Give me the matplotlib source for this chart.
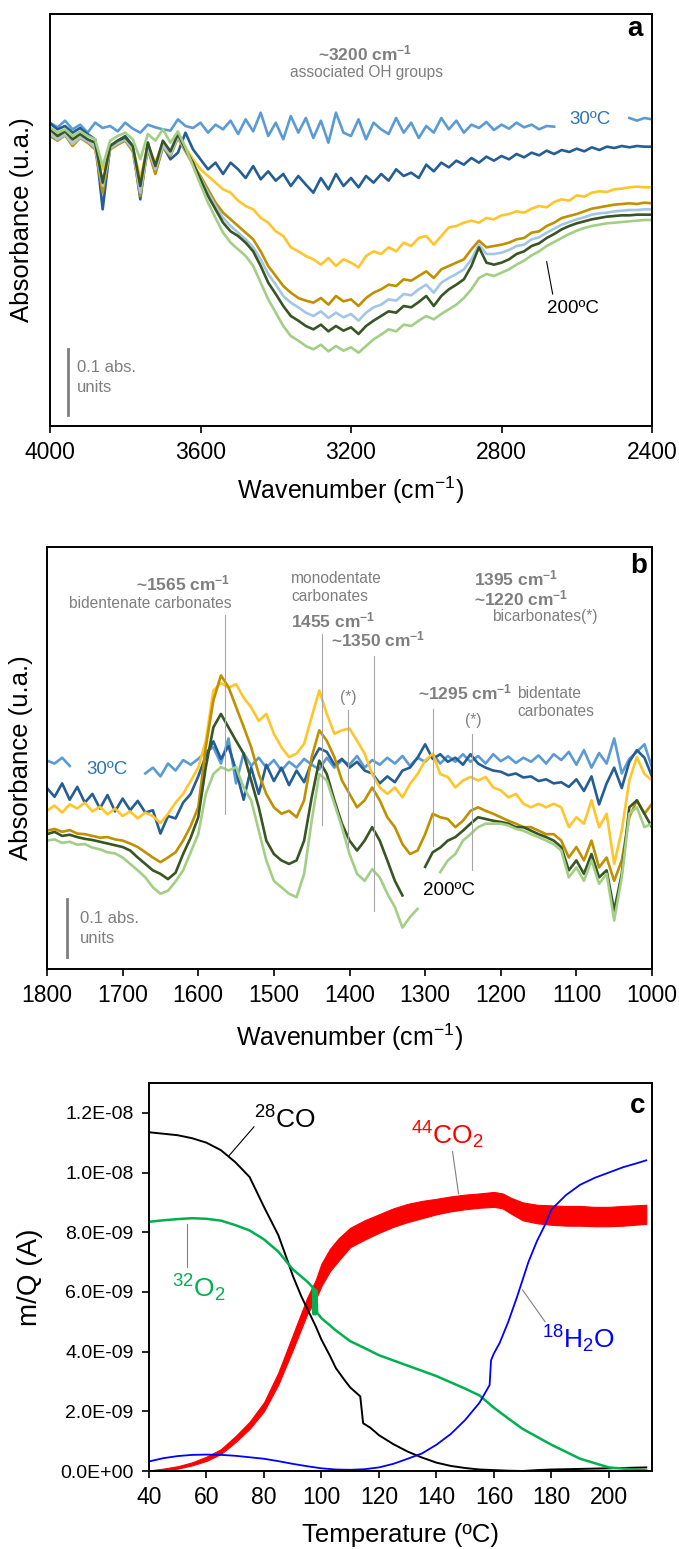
import numpy as np
import matplotlib
matplotlib.use("Agg")
import matplotlib.pyplot as plt
from matplotlib.ticker import FuncFormatter

plt.rcParams['font.family'] = ['Liberation Sans', 'DejaVu Sans']
plt.rcParams['mathtext.fontset'] = 'custom'
plt.rcParams['mathtext.rm'] = 'Liberation Sans'
plt.rcParams['mathtext.it'] = 'Liberation Sans:italic'
plt.rcParams['mathtext.bf'] = 'Liberation Sans:bold'

nan = np.nan

# ---------------- panel a: 4000 -> 2400 cm-1, step 20 ----------------
a_start, a_end = 4000, 2400
a_30C = [0.455, 0.448, 0.458, 0.445, 0.452, 0.440, 0.455, 0.447, 0.450, 0.442,
         0.455, 0.446, 0.440, 0.452, 0.448, 0.445, 0.443, 0.460, 0.450, 0.447,
         0.455, 0.440, 0.452, 0.445, 0.458, 0.438, 0.460, 0.442, 0.470, 0.435,
         0.455, 0.430, 0.465, 0.440, 0.462, 0.432, 0.458, 0.425, 0.470, 0.440,
         0.435, 0.460, 0.430, 0.455, 0.445, 0.438, 0.462, 0.440, 0.455, 0.432,
         0.450, 0.440, 0.462, 0.445, 0.458, 0.440, 0.452, 0.447, 0.456, 0.444,
         0.452, 0.446, 0.455, 0.448, 0.452, 0.445, 0.450, 0.449, nan, nan,
         nan, nan, nan, nan, nan, nan, nan, 0.462, 0.458, 0.462,
         0.460]
a_dblue = [0.454, 0.445, 0.450, 0.440, 0.447, 0.438, 0.430, 0.325, 0.420, 0.428,
           0.435, 0.420, 0.340, 0.425, 0.380, 0.420, 0.400, 0.410, 0.440, 0.415,
           0.400, 0.385, 0.395, 0.378, 0.395, 0.385, 0.372, 0.390, 0.370, 0.382,
           0.368, 0.378, 0.360, 0.375, 0.362, 0.350, 0.372, 0.355, 0.378, 0.360,
           0.372, 0.358, 0.375, 0.365, 0.378, 0.368, 0.385, 0.375, 0.380, 0.372,
           0.392, 0.382, 0.395, 0.388, 0.398, 0.392, 0.402, 0.395, 0.404, 0.398,
           0.405, 0.400, 0.408, 0.403, 0.410, 0.406, 0.413, 0.408, 0.414, 0.411,
           0.416, 0.412, 0.418, 0.414, 0.419, 0.417, 0.420, 0.418, 0.420, 0.419,
           0.419]
a_yellow = [0.440, 0.432, 0.438, 0.425, 0.435, 0.428, 0.420, 0.385, 0.418, 0.425,
            0.430, 0.418, 0.372, 0.420, 0.395, 0.425, 0.410, 0.435, 0.418, 0.400,
            0.385, 0.375, 0.365, 0.355, 0.350, 0.338, 0.330, 0.325, 0.312, 0.305,
            0.292, 0.285, 0.268, 0.262, 0.255, 0.250, 0.242, 0.252, 0.240, 0.250,
            0.245, 0.238, 0.255, 0.262, 0.258, 0.268, 0.262, 0.275, 0.270, 0.282,
            0.285, 0.272, 0.285, 0.298, 0.300, 0.305, 0.308, 0.305, 0.312, 0.310,
            0.316, 0.318, 0.322, 0.320, 0.326, 0.330, 0.328, 0.336, 0.340, 0.338,
            0.346, 0.344, 0.350, 0.352, 0.351, 0.355, 0.356, 0.358, 0.359, 0.358,
            0.358]
a_gold = [0.435, 0.428, 0.436, 0.420, 0.432, 0.425, 0.415, 0.350, 0.415, 0.422,
          0.428, 0.412, 0.345, 0.415, 0.378, 0.418, 0.405, 0.432, 0.412, 0.392,
          0.375, 0.355, 0.335, 0.320, 0.310, 0.300, 0.290, 0.280, 0.262, 0.240,
          0.225, 0.210, 0.200, 0.192, 0.188, 0.185, 0.192, 0.182, 0.195, 0.187,
          0.190, 0.180, 0.192, 0.200, 0.205, 0.212, 0.210, 0.220, 0.218, 0.225,
          0.232, 0.222, 0.235, 0.240, 0.245, 0.250, 0.265, 0.278, 0.268, 0.270,
          0.272, 0.275, 0.280, 0.282, 0.290, 0.292, 0.300, 0.305, 0.312, 0.315,
          0.318, 0.322, 0.326, 0.328, 0.330, 0.332, 0.333, 0.334, 0.333, 0.335,
          0.334]
a_pblue = [0.438, 0.430, 0.437, 0.423, 0.433, 0.427, 0.418, 0.360, 0.417, 0.424,
           0.430, 0.415, 0.350, 0.418, 0.385, 0.420, 0.407, 0.434, 0.414, 0.394,
           0.372, 0.350, 0.330, 0.312, 0.300, 0.290, 0.280, 0.268, 0.250, 0.228,
           0.212, 0.195, 0.185, 0.178, 0.170, 0.165, 0.172, 0.162, 0.170, 0.163,
           0.168, 0.158, 0.170, 0.178, 0.182, 0.190, 0.188, 0.198, 0.196, 0.205,
           0.212, 0.200, 0.215, 0.222, 0.228, 0.235, 0.250, 0.272, 0.258, 0.258,
           0.260, 0.264, 0.270, 0.272, 0.280, 0.283, 0.290, 0.296, 0.302, 0.306,
           0.310, 0.313, 0.317, 0.319, 0.320, 0.322, 0.323, 0.324, 0.324, 0.325,
           0.325]
a_dgreen = [0.445, 0.435, 0.442, 0.430, 0.438, 0.430, 0.425, 0.365, 0.420, 0.428,
            0.433, 0.420, 0.360, 0.425, 0.390, 0.428, 0.412, 0.438, 0.415, 0.395,
            0.370, 0.345, 0.325, 0.305, 0.292, 0.285, 0.275, 0.262, 0.240, 0.215,
            0.198, 0.180, 0.165, 0.158, 0.150, 0.145, 0.152, 0.142, 0.150, 0.143,
            0.148, 0.138, 0.150, 0.158, 0.165, 0.172, 0.170, 0.180, 0.178, 0.186,
            0.195, 0.180, 0.195, 0.205, 0.212, 0.220, 0.240, 0.268, 0.245, 0.242,
            0.245, 0.250, 0.258, 0.262, 0.270, 0.274, 0.282, 0.288, 0.295, 0.300,
            0.304, 0.307, 0.310, 0.312, 0.314, 0.315, 0.316, 0.316, 0.317, 0.317,
            0.317]
a_lgreen = [0.448, 0.440, 0.445, 0.435, 0.442, 0.435, 0.430, 0.390, 0.428, 0.435,
            0.440, 0.430, 0.400, 0.438, 0.428, 0.445, 0.425, 0.442, 0.418, 0.390,
            0.362, 0.335, 0.312, 0.290, 0.275, 0.265, 0.255, 0.240, 0.215, 0.190,
            0.170, 0.150, 0.135, 0.128, 0.120, 0.115, 0.122, 0.112, 0.120, 0.113,
            0.118, 0.110, 0.120, 0.130, 0.137, 0.145, 0.142, 0.152, 0.150, 0.158,
            0.165, 0.160, 0.168, 0.175, 0.182, 0.192, 0.205, 0.222, 0.228, 0.225,
            0.230, 0.235, 0.242, 0.248, 0.256, 0.262, 0.270, 0.276, 0.282, 0.288,
            0.293, 0.297, 0.300, 0.302, 0.304, 0.305, 0.306, 0.307, 0.308, 0.309,
            0.309]

# ---------------- panel b: 1800 -> 1000 cm-1, step 10 ----------------
b_start, b_end = 1800, 1000
b_30C = [0.357, 0.352, 0.362, 0.348, nan, nan, nan, nan, nan, nan,
         nan, nan, nan, 0.335, 0.345, 0.330, 0.352, 0.340, 0.358, 0.350,
         0.360, 0.372, 0.380, 0.352, 0.395, 0.318, 0.370, 0.348, 0.362, 0.345,
         0.358, 0.340, 0.355, 0.345, 0.360, 0.350, 0.342, 0.362, 0.345, 0.358,
         0.350, 0.365, 0.345, 0.358, 0.350, 0.362, 0.352, 0.365, 0.348, 0.362,
         0.355, 0.368, 0.352, 0.365, 0.355, 0.368, 0.355, 0.365, 0.352, 0.368,
         0.356, 0.364, 0.353, 0.362, 0.355, 0.366, 0.352, 0.368, 0.358, 0.372,
         0.350, 0.375, 0.345, 0.370, 0.352, 0.395, 0.335, 0.360, 0.372, 0.385,
         0.345]
b_dblue = [0.310, 0.295, 0.318, 0.290, 0.312, 0.285, 0.300, 0.275, 0.298, 0.270,
           0.292, 0.272, 0.288, 0.268, 0.272, 0.232, 0.262, 0.258, 0.285, 0.300,
           0.330, 0.365, 0.390, 0.360, 0.382, 0.340, 0.290, 0.345, 0.300, 0.350,
           0.322, 0.345, 0.315, 0.340, 0.320, 0.355, 0.378, 0.372, 0.350, 0.360,
           0.345, 0.355, 0.340, 0.335, 0.318, 0.330, 0.320, 0.340, 0.345, 0.362,
           0.385, 0.360, 0.368, 0.355, 0.362, 0.350, 0.368, 0.352, 0.345, 0.340,
           0.338, 0.332, 0.335, 0.328, 0.330, 0.322, 0.325, 0.318, 0.320, 0.312,
           0.325, 0.305, 0.330, 0.282, 0.318, 0.345, 0.310, 0.355, 0.375, 0.362,
           0.330]
b_yellow = [0.271, 0.280, 0.268, 0.282, 0.275, 0.285, 0.270, 0.278, 0.265, 0.275,
            0.262, 0.270, 0.258, 0.268, 0.262, 0.250, 0.266, 0.285, 0.300, 0.322,
            0.345, 0.391, 0.477, 0.490, 0.482, 0.488, 0.465, 0.448, 0.425, 0.437,
            0.403, 0.380, 0.363, 0.369, 0.386, 0.432, 0.477, 0.437, 0.403, 0.409,
            0.412, 0.391, 0.369, 0.334, 0.311, 0.300, 0.311, 0.294, 0.317, 0.334,
            0.357, 0.369, 0.334, 0.329, 0.311, 0.323, 0.329, 0.323, 0.329, 0.311,
            0.306, 0.294, 0.300, 0.283, 0.277, 0.283, 0.277, 0.283, 0.277, 0.243,
            0.260, 0.249, 0.289, 0.243, 0.266, 0.180, 0.237, 0.323, 0.363, 0.334,
            0.323]
b_gold = [0.237, 0.240, 0.235, 0.238, 0.232, 0.231, 0.228, 0.225, 0.226, 0.222,
          0.220, 0.215, 0.209, 0.200, 0.191, 0.183, 0.191, 0.200, 0.220, 0.245,
          0.277, 0.380, 0.460, 0.503, 0.483, 0.449, 0.415, 0.380, 0.334, 0.300,
          0.277, 0.266, 0.271, 0.260, 0.289, 0.363, 0.409, 0.391, 0.363, 0.323,
          0.300, 0.277, 0.289, 0.311, 0.289, 0.260, 0.243, 0.214, 0.197, 0.203,
          0.231, 0.266, 0.260, 0.257, 0.243, 0.254, 0.271, 0.277, 0.271, 0.266,
          0.260, 0.254, 0.249, 0.243, 0.243, 0.237, 0.231, 0.231, 0.220, 0.191,
          0.209, 0.186, 0.220, 0.174, 0.191, 0.151, 0.186, 0.260, 0.289, 0.266,
          0.283]
b_dgreen = [0.231, 0.235, 0.228, 0.230, 0.226, 0.223, 0.221, 0.218, 0.215, 0.212,
            0.209, 0.203, 0.191, 0.180, 0.169, 0.163, 0.154, 0.165, 0.197, 0.225,
            0.260, 0.346, 0.414, 0.437, 0.414, 0.391, 0.369, 0.323, 0.277, 0.220,
            0.197, 0.186, 0.180, 0.186, 0.220, 0.294, 0.357, 0.334, 0.289, 0.249,
            0.220, 0.203, 0.220, 0.243, 0.220, 0.186, 0.151, 0.126, nan, nan,
            0.175, 0.200, 0.208, 0.220, 0.226, 0.237, 0.249, 0.260, 0.257, 0.254,
            0.252, 0.249, 0.243, 0.243, 0.237, 0.231, 0.226, 0.220, 0.209, 0.169,
            0.186, 0.163, 0.197, 0.157, 0.169, 0.100, 0.163, 0.277, 0.289, 0.266,
            0.243]
b_lgreen = [0.220, 0.222, 0.216, 0.218, 0.213, 0.214, 0.208, 0.205, 0.200, 0.198,
            0.191, 0.180, 0.169, 0.157, 0.140, 0.129, 0.134, 0.150, 0.169, 0.200,
            0.231, 0.300, 0.334, 0.346, 0.340, 0.346, 0.311, 0.289, 0.237, 0.186,
            0.151, 0.140, 0.129, 0.123, 0.163, 0.254, 0.334, 0.323, 0.283, 0.243,
            0.197, 0.163, 0.151, 0.171, 0.157, 0.129, 0.106, 0.071, 0.089, 0.103,
            nan, nan, 0.166, 0.186, 0.197, 0.220, 0.231, 0.243, 0.249, 0.249,
            0.249, 0.246, 0.240, 0.237, 0.231, 0.226, 0.220, 0.214, 0.203, 0.157,
            0.174, 0.151, 0.186, 0.146, 0.163, 0.083, 0.157, 0.266, 0.277, 0.243,
            0.249]

# ---------------- panel c: m/Q signals (units of 1e-9 A) ----------------
co_T = [40, 45, 50, 55, 60, 65, 70, 75, 80, 85, 88, 90, 93, 95, 98, 100, 103, 105, 108, 110,
        113.5, 114.5, 117, 120, 125, 130, 135, 140, 145, 150, 155, 160, 165, 170, 175, 180,
        190, 200, 213]
co_y = [11.35, 11.30, 11.25, 11.15, 11.00, 10.75, 10.35, 9.85, 8.85, 7.90, 7.10, 6.55, 5.85,
        5.45, 4.85, 4.40, 3.85, 3.45, 3.05, 2.80, 2.50, 1.60, 1.45, 1.20, 0.90, 0.65, 0.45,
        0.28, 0.17, 0.10, 0.05, 0.03, 0.01, 0.00, 0.03, 0.05, 0.07, 0.09, 0.12]
o2_T = [40, 45, 50, 55, 60, 65, 70, 75, 80, 85, 90, 95, 97.0, 97.3, 97.6, 97.9, 98.2, 98.5,
        100, 105, 110, 115, 120, 130, 140, 150, 155, 160, 165, 170, 180, 190, 200, 210, 213]
o2_y = [8.35, 8.40, 8.44, 8.47, 8.45, 8.39, 8.24, 8.06, 7.76, 7.35, 6.76, 6.35, 6.15, 5.25,
        6.10, 5.25, 6.05, 5.30, 5.12, 4.71, 4.35, 4.12, 3.88, 3.53, 3.18, 2.76, 2.53, 2.12,
        1.76, 1.41, 0.88, 0.41, 0.12, 0.04, 0.02]
co2_T = [40, 45, 50, 55, 60, 65, 70, 75, 80, 85, 90, 95, 98, 100, 103, 106, 110, 115, 120,
         125, 130, 135, 140, 145, 150, 155, 160, 163, 166, 170, 175, 180, 185, 190, 195, 200,
         205, 213]
co2_lo = [0.00, 0.02, 0.08, 0.19, 0.34, 0.57, 0.96, 1.41, 2.00, 2.90, 4.05, 5.25, 5.75, 6.20,
          6.70, 7.05, 7.50, 7.75, 7.98, 8.18, 8.34, 8.47, 8.60, 8.70, 8.77, 8.82, 8.85, 8.80,
          8.62, 8.40, 8.30, 8.25, 8.22, 8.22, 8.20, 8.20, 8.22, 8.28]
co2_hi = [0.02, 0.08, 0.16, 0.29, 0.48, 0.73, 1.16, 1.65, 2.30, 3.30, 4.55, 5.80, 6.40, 6.95,
          7.45, 7.80, 8.15, 8.40, 8.60, 8.80, 8.95, 9.05, 9.12, 9.20, 9.26, 9.30, 9.35, 9.30,
          9.15, 9.00, 8.92, 8.90, 8.88, 8.88, 8.85, 8.85, 8.88, 8.92]
h2o_T = [40, 45, 50, 55, 60, 65, 70, 75, 80, 85, 90, 95, 100, 105, 110, 115, 120, 125, 130,
         135, 140, 145, 150, 155, 158.5, 159, 160, 162, 165, 168, 170, 172, 175, 178, 180, 185,
         190, 195, 200, 205, 210, 213]
h2o_y = [0.32, 0.43, 0.50, 0.54, 0.55, 0.54, 0.51, 0.46, 0.41, 0.33, 0.24, 0.16, 0.09, 0.05,
         0.04, 0.06, 0.12, 0.24, 0.41, 0.59, 0.88, 1.24, 1.71, 2.29, 2.88, 3.71, 3.94, 4.29,
         5.00, 5.82, 6.41, 7.00, 7.71, 8.29, 8.76, 9.24, 9.59, 9.82, 10.00, 10.18, 10.32, 10.41]

# colours
c_30C = '#5B9BD5'
c_dblue = '#245E94'
c_yellow = '#FFC52A'
c_gold = '#C09000'
c_pblue = '#A3C6E8'
c_dgreen = '#375623'
c_lgreen = '#A2CF85'
grey = '#7F7F7F'

W, H = 679, 1549
fig = plt.figure(figsize=(W / 100, H / 100), dpi=100)


def style_spectrum_axes(ax, xlim, ylim, ticks):
    ax.set_xlim(*xlim)
    ax.set_ylim(*ylim)
    ax.set_yticks([])
    ax.set_xticks(ticks)
    ax.tick_params(axis='x', direction='out', length=5, width=1.2, labelsize=16.5, pad=6)
    for s in ax.spines.values():
        s.set_linewidth(1.4)
    ax.set_ylabel('Absorbance (u.a.)', fontsize=18.5)
    ax.set_xlabel('Wavenumber (cm$^{-1}$)', fontsize=18)
    ax.yaxis.label.set_va('center')
    ax.xaxis.label.set_va('center')


# ---------------- panel a ----------------
ax = fig.add_axes([50 / W, 1 - 426 / H, 602 / W, 412 / H])
lw = 1.9
for ys, col in [(a_30C, c_30C), (a_dblue, c_dblue), (a_yellow, c_yellow), (a_gold, c_gold),
                (a_pblue, c_pblue), (a_dgreen, c_dgreen), (a_lgreen, c_lgreen)]:
    ax.plot(np.linspace(a_start, a_end, len(ys)), ys, color=col, lw=lw)
style_spectrum_axes(ax, (4000, 2400), (0, 0.618), [4000, 3600, 3200, 2800, 2400])
ax.yaxis.set_label_coords(-0.047, 0.5)
ax.xaxis.set_label_coords(0.5, -0.155)
ax.text(3163, 0.559, r'~3200 cm$^{\mathbf{-1}}$', color=grey, fontsize=12.5, fontweight='bold',
        ha='center', va='center')
ax.text(3160, 0.530, 'associated OH groups', color=grey, fontsize=11.2, ha='center', va='center')
ax.text(2564, 0.459, '30ºC', color='#2E75B6', fontsize=13.5, ha='center', va='center')
ax.text(2610, 0.176, '200ºC', color='black', fontsize=13.5, ha='center', va='center')
ax.plot([2680, 2664], [0.2465, 0.198], color='black', lw=0.8)
ax.text(2446, 0.595, 'a', fontsize=20, fontweight='bold', ha='center', va='center')
ax.plot([3952, 3952], [0.016, 0.116], color=grey, lw=2)
ax.text(3928, 0.087, '0.1 abs.', color=grey, fontsize=12, ha='left', va='center')
ax.text(3928, 0.057, 'units', color=grey, fontsize=12, ha='left', va='center')

# ---------------- panel b ----------------
ax = fig.add_axes([47 / W, 1 - 969 / H, 605 / W, 422 / H])
for ys, col in [(b_30C, c_30C), (b_dblue, c_dblue), (b_yellow, c_yellow), (b_gold, c_gold),
                (b_dgreen, c_dgreen), (b_lgreen, c_lgreen)]:
    ax.plot(np.linspace(b_start, b_end, len(ys)), ys, color=col, lw=lw)
style_spectrum_axes(ax, (1800, 1000), (0, 0.723), list(range(1800, 999, -100)))
ax.yaxis.set_label_coords(-0.043, 0.5)
ax.xaxis.set_label_coords(0.5, -0.161)
lc = '#A6A6A6'
for x, y0, y1 in [(1564, 0.266, 0.606), (1437, 0.246, 0.574), (1368, 0.100, 0.537),
                  (1402, 0.209, 0.443), (1289, 0.211, 0.446), (1238, 0.169, 0.403)]:
    ax.plot([x, x], [y0, y1], color=lc, lw=0.8)
bold = dict(color=grey, fontsize=12.5, fontweight='bold', va='center')
norm = dict(color=grey, fontsize=11.2, va='center')
ax.text(1557, 0.660, r'~1565 cm$^{\mathbf{-1}}$', ha='right', **bold)
ax.text(1556, 0.627, 'bidentenate carbonates', ha='right', **norm)
ax.text(1477, 0.669, 'monodentate', ha='left', **norm)
ax.text(1477, 0.638, 'carbonates', ha='left', **norm)
ax.text(1477, 0.598, r'1455 cm$^{\mathbf{-1}}$', ha='left', **bold)
ax.text(1424, 0.564, r'~1350 cm$^{\mathbf{-1}}$', ha='left', **bold)
ax.text(1402, 0.465, '(*)', ha='center', **norm)
ax.text(1236, 0.669, r'1395 cm$^{\mathbf{-1}}$', ha='left', **bold)
ax.text(1236, 0.634, r'~1220 cm$^{\mathbf{-1}}$', ha='left', **bold)
ax.text(1212, 0.604, 'bicarbonates(*)', ha='left', **norm)
ax.text(1309, 0.473, r'~1295 cm$^{\mathbf{-1}}$', ha='left', **bold)
ax.text(1178, 0.472, 'bidentate', ha='left', **norm)
ax.text(1178, 0.442, 'carbonates', ha='left', **norm)
ax.text(1237, 0.426, '(*)', ha='center', **norm)
ax.text(1721, 0.341, '30ºC', color='#2E75B6', fontsize=13.5, ha='center', va='center')
ax.text(1269, 0.134, '200ºC', color='black', fontsize=13.5, ha='center', va='center')
ax.text(1018, 0.691, 'b', fontsize=20, fontweight='bold', ha='center', va='center')
ax.plot([1773, 1773], [0.02, 0.12], color=grey, lw=2)
ax.text(1757, 0.0857, '0.1 abs.', color=grey, fontsize=12, ha='left', va='center')
ax.text(1757, 0.0514, 'units', color=grey, fontsize=12, ha='left', va='center')

# ---------------- panel c ----------------
ax = fig.add_axes([149 / W, 1 - 1471 / H, 503 / W, 388 / H])
e9 = 1e-9
ax.fill_between(co2_T, np.array(co2_lo) * e9, np.array(co2_hi) * e9, color='#FF0000', lw=0.8)
ax.plot(co_T, np.array(co_y) * e9, color='black', lw=1.4)
ax.plot(o2_T, np.array(o2_y) * e9, color='#00B050', lw=1.8)
ax.plot(h2o_T, np.array(h2o_y) * e9, color='#0000FF', lw=1.3)
ax.set_xlim(40, 215)
ax.set_ylim(0, 1.3e-8)
ax.set_xticks(list(range(40, 201, 20)))
ax.set_yticks([i * 2e-9 for i in range(7)])
ax.yaxis.set_major_formatter(FuncFormatter(lambda v, p: f'{v:.1E}'))
ax.tick_params(axis='x', direction='out', length=5, width=1.2, labelsize=16.5, pad=6)
ax.tick_params(axis='y', direction='out', length=5, width=1.2, labelsize=14, pad=6)
for s in ax.spines.values():
    s.set_linewidth(1.4)
ax.set_ylabel('m/Q (A)', fontsize=20)
ax.set_xlabel('Temperature (ºC)', fontsize=18.5)
ax.yaxis.label.set_va('center')
ax.xaxis.label.set_va('center')
ax.yaxis.set_label_coords(-0.237, 0.5)
ax.xaxis.set_label_coords(0.5, -0.165)
ax.text(87.3, 11.76 * e9, r'$^{28}$CO', fontsize=19, ha='center', va='center')
ax.plot([76.5, 67.8], [11.53 * e9, 10.56 * e9], color='black', lw=0.8)
ax.text(143.7, 11.24 * e9, r'$^{44}$CO$_2$', color='#FF0000', fontsize=19, ha='center', va='center')
ax.plot([145.6, 147.7], [10.7 * e9, 9.29 * e9], color='#808080', lw=0.8)
ax.text(57.3, 6.12 * e9, r'$^{32}$O$_2$', color='#00B050', fontsize=19, ha='center', va='center')
ax.plot([53.1, 53.1], [8.29 * e9, 6.82 * e9], color='#808080', lw=0.8)
ax.text(189.5, 4.41 * e9, r'$^{18}$H$_2$O', color='#0000FF', fontsize=19, ha='center', va='center')
ax.plot([170, 177.8], [6.06 * e9, 5.0 * e9], color='#808080', lw=0.8)
ax.text(210, 12.24 * e9, 'c', fontsize=20, fontweight='bold', ha='center', va='center')

fig.savefig('out.png', dpi=100)
